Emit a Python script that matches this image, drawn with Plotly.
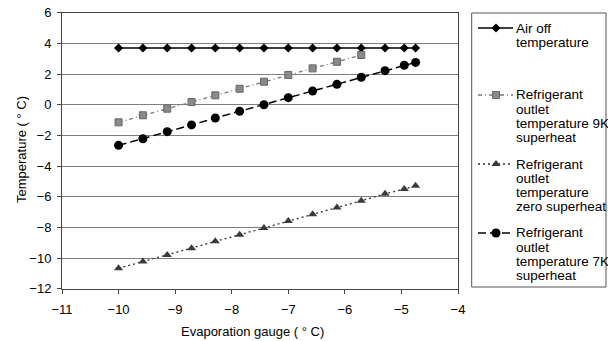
import plotly.graph_objects as go

# ---- data ----
evap_x = [-10.0, -9.57, -9.14, -8.71, -8.29, -7.86, -7.43, -7.0, -6.57, -6.14, -5.71, -5.29, -4.95, -4.75]
air_off = [3.7, 3.7, 3.7, 3.7, 3.7, 3.7, 3.7, 3.7, 3.7, 3.7, 3.7, 3.7, 3.7, 3.7]
sh9_x = [-10.0, -9.57, -9.14, -8.71, -8.29, -7.86, -7.43, -7.0, -6.57, -6.14, -5.71]
sh9 = [-1.15, -0.69, -0.26, 0.17, 0.61, 1.04, 1.5, 1.94, 2.37, 2.8, 3.24]
sh0 = [-10.67, -10.22, -9.8, -9.37, -8.9, -8.48, -8.04, -7.58, -7.14, -6.71, -6.27, -5.81, -5.5, -5.28]
sh7 = [-2.65, -2.22, -1.76, -1.32, -0.87, -0.43, 0.0, 0.46, 0.89, 1.33, 1.79, 2.22, 2.57, 2.76]

x_ticks = [-11, -10, -9, -8, -7, -6, -5, -4]
y_ticks = [-12, -10, -8, -6, -4, -2, 0, 2, 4, 6]

legend_entries = [
    ["Air off", "temperature"],
    ["Refrigerant", "outlet", "temperature 9K", "superheat"],
    ["Refrigerant", "outlet", "temperature", "zero superheat"],
    ["Refrigerant", "outlet", "temperature 7K", "superheat"],
]

# ---- layout constants (pixels) ----
W, H = 608, 341
PL, PR, PT, PB = 62, 458, 12.7, 288.7
FONT = "Liberation Sans, Arial, sans-serif"

styles = [
    dict(line=dict(color="black", width=1.5, dash="solid"),
         marker=dict(symbol="diamond", size=7, color="black")),
    dict(line=dict(color="#7a7a7a", width=1.3, dash="4px,3px,1px,3px"),
         marker=dict(symbol="square", size=7, color="#8a8a8a", line=dict(color="#666", width=1))),
    dict(line=dict(color="#333333", width=1.3, dash="2px,3px"),
         marker=dict(symbol="triangle-up", size=8, color="#3a3a3a")),
    dict(line=dict(color="black", width=1.5, dash="8px,4px"),
         marker=dict(symbol="circle", size=9, color="black")),
]

series = [(evap_x, air_off), (sh9_x, sh9), (evap_x, sh0), (evap_x, sh7)]

fig = go.Figure()
for (xs, ys), st in zip(series, styles):
    fig.add_trace(go.Scatter(x=xs, y=ys, mode="lines+markers", showlegend=False,
                             line=st["line"], marker=st["marker"]))

# ---- custom legend ----
LX0, LX1, LY0, LY1 = 471.7, 606, 13, 287
sym_x0, sym_x1, sym_xm = 478, 513, 496
text_x = 513.5
entry_y = [28, 95, 164, 233]
line_gap = 14.2

for st, ey in zip(styles, entry_y):
    fig.add_trace(go.Scatter(x=[sym_x0, sym_x1], y=[ey, ey], mode="lines", showlegend=False,
                             line=st["line"], xaxis="x2", yaxis="y2", hoverinfo="skip"))
    fig.add_trace(go.Scatter(x=[sym_xm], y=[ey], mode="markers", showlegend=False,
                             marker=st["marker"], xaxis="x2", yaxis="y2", hoverinfo="skip"))

annotations = []
for lines, ey in zip(legend_entries, entry_y):
    for i, t in enumerate(lines):
        annotations.append(dict(x=text_x / W, y=1 - (ey + i * line_gap) / H, xref="paper", yref="paper",
                                text=t, showarrow=False, xanchor="left", yanchor="middle",
                                font=dict(family=FONT, size=13.5, color="black")))

annotations.append(dict(x=(PL + PR) / 2 / W - 0.013, y=1 - 331 / H, xref="paper", yref="paper",
                        text="Evaporation gauge ( ° C)", showarrow=False, xanchor="center", yanchor="middle",
                        font=dict(family=FONT, size=13, color="black")))
annotations.append(dict(x=21 / W, y=1 - 150 / H, xref="paper", yref="paper",
                        text="Temperature ( ° C)", showarrow=False, xanchor="center", yanchor="middle",
                        textangle=-90, font=dict(family=FONT, size=13, color="black")))

fig.update_layout(
    width=W, height=H,
    margin=dict(l=0, r=0, t=0, b=0),
    paper_bgcolor="white", plot_bgcolor="rgba(0,0,0,0)",
    font=dict(family=FONT, size=13, color="black"),
    xaxis=dict(domain=[PL / W, PR / W], range=[-11, -4], tickvals=x_ticks,
               ticks="outside", ticklen=4, tickcolor="#444", showgrid=False, zeroline=False,
               showline=True, linecolor="#444", linewidth=1, mirror=True,
               ticklabelstandoff=5, automargin=False, tickfont=dict(size=13)),
    yaxis=dict(domain=[1 - PB / H, 1 - PT / H], range=[-12, 6], tickvals=y_ticks,
               ticks="outside", ticklen=4, tickcolor="#444", showgrid=True, gridcolor="#7f7f7f",
               gridwidth=1, zeroline=False, showline=True, linecolor="#444", linewidth=1, mirror=True,
               ticklabelstandoff=3, automargin=False, tickfont=dict(size=13)),
    xaxis2=dict(domain=[0, 1], range=[0, W], visible=False, fixedrange=True, anchor="y2"),
    yaxis2=dict(domain=[0, 1], range=[H, 0], visible=False, fixedrange=True, anchor="x2"),
    shapes=[dict(type="rect", xref="paper", yref="paper", x0=LX0 / W, x1=LX1 / W,
                 y0=1 - LY1 / H, y1=1 - LY0 / H, line=dict(color="#555", width=1))],
    annotations=annotations,
)
fig.write_html("out.html", config={"displayModeBar": False},
               post_script="document.body.style.margin='0';document.body.style.padding='0';")
